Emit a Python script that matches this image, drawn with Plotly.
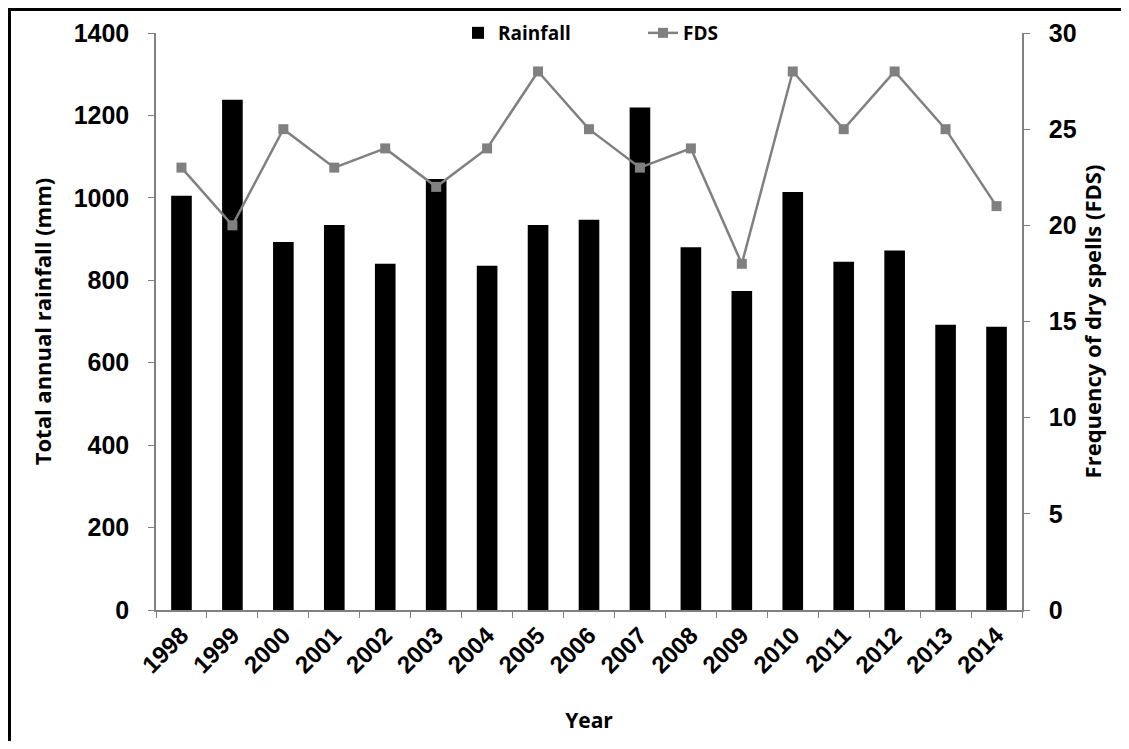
import plotly.graph_objects as go

years = ["1998", "1999", "2000", "2001", "2002", "2003", "2004", "2005", "2006",
         "2007", "2008", "2009", "2010", "2011", "2012", "2013", "2014"]
rainfall = [1005, 1238, 893, 934, 840, 1046, 835, 934, 947,
            1219, 880, 774, 1014, 845, 872, 692, 687]
fds = [23, 20, 25, 23, 24, 22, 24, 28, 25, 23, 24, 18, 28, 25, 28, 25, 21]

# page has an 8px body margin; figure sized to fit inside it
OFF = 8
W, H = 1129 - 2 * OFF, 749 - 2 * OFF
L, T = 156 - OFF, 33 - OFF
R, B = (OFF + W) - 1022, (OFF + H) - 610
pw, ph = W - L - R, H - T - B

fig = go.Figure()
fig.add_trace(go.Bar(x=years, y=rainfall, name="Rainfall", marker_color="black",
                     marker_line_width=0, yaxis="y"))
fig.add_trace(go.Scatter(x=years, y=fds, name="FDS", mode="lines+markers",
                         line=dict(color="#808080", width=2.5),
                         marker=dict(symbol="square", size=10, color="#808080"),
                         yaxis="y2"))

tickfont = dict(family="Liberation Sans, Arial", size=25, color="black", weight="bold")
titlefont = dict(family="Open Sans, sans-serif", size=22, color="black", weight="bold")

fig.update_layout(
    width=W, height=H,
    margin=dict(l=L, r=R, t=T, b=B, autoexpand=False),
    paper_bgcolor="white", plot_bgcolor="white",
    bargap=0.595,
    showlegend=True,
    legend=dict(orientation="h", x=(458 - 156) / pw, xanchor="left", y=1.0, yanchor="middle",
                font=dict(family="Open Sans, sans-serif", size=19, color="black", weight="bold"),
                entrywidth=140, bgcolor="rgba(0,0,0,0)", traceorder="normal"),
    xaxis=dict(type="category", range=[-0.5, len(years) - 0.5],
               showline=True, linecolor="#808080", linewidth=1.5,
               ticks="outside", tickson="boundaries", ticklen=6, tickcolor="#808080",
               tickangle=-45, automargin=False,
               tickfont=dict(family="Liberation Sans, Arial", size=24,
                             color="black", weight="bold"),
               title=dict(text="Year", font=dict(family="Open Sans, sans-serif", size=21,
                                                 color="black", weight="bold"), standoff=36),
               showgrid=False, zeroline=False),
    yaxis=dict(range=[0, 1400], dtick=200, showline=True, linecolor="#808080", linewidth=1.5,
               ticks="outside", ticklen=6, tickcolor="#808080", tickfont=tickfont,
               automargin=False, ticklabelstandoff=14,
               title=dict(text="Total annual rainfall (mm)", font=titlefont, standoff=16),
               showgrid=False, zeroline=False),
    yaxis2=dict(range=[0, 30], dtick=5, overlaying="y", side="right", showline=True,
                linecolor="#808080", linewidth=1.5, ticks="outside", ticklen=6,
                tickcolor="#808080", tickfont=tickfont, automargin=False,
                ticklabelstandoff=14,
                title=dict(text="Frequency of dry spells (FDS)", font=titlefont, standoff=8),
                showgrid=False, zeroline=False),
)

# outer frame of the image: only the left and top edges are visible
fx0 = (1.5 - L) / pw
fx1 = (W - L) / pw
fy_top = 1 + (T - 1.5) / ph
fy_bot = 1 + (T - H) / ph
fig.add_shape(type="path", xref="paper", yref="paper",
              path=f"M {fx0},{fy_bot} L {fx0},{fy_top} L {fx1},{fy_top}",
              line=dict(color="black", width=3), layer="below")

fig.write_html("out.html")
